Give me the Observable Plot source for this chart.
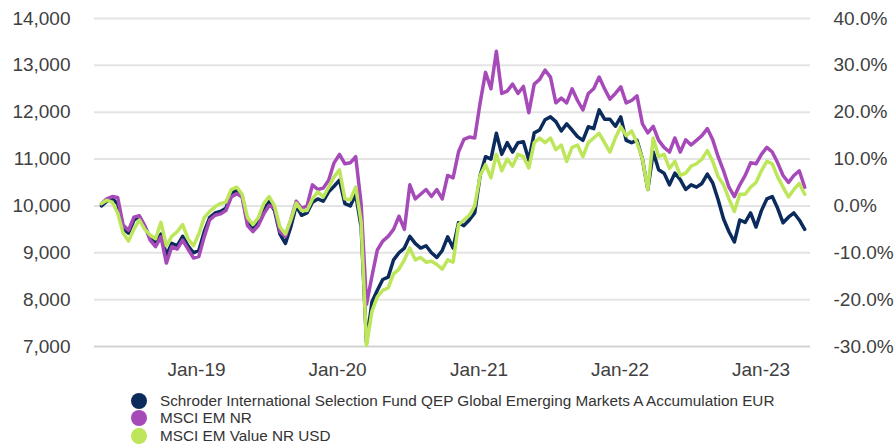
<!DOCTYPE html>
<html><head><meta charset="utf-8">
<script src="https://cdn.jsdelivr.net/npm/d3@7"></script>
<script src="https://cdn.jsdelivr.net/npm/@observablehq/plot@0.6"></script>
<style>
body{margin:0;background:#fff;font-family:"Liberation Sans",Arial,sans-serif;}
#chart{position:absolute;left:0;top:0;}
#legend{position:absolute;left:131px;top:392px;font-size:15.3px;color:#333;}
.item{display:flex;align-items:center;height:17.5px;white-space:nowrap;}
.dot{width:16px;height:16px;border-radius:50%;margin-right:13px;flex:none;}
</style></head><body><div id="chart"></div><div id="legend"></div>
<script>
// Biweekly observations starting 30 Apr 2018 (growth of 10,000)
const startDate = "2018-04-30";
const stepDays = 14;

const seriesNames = [
  "Schroder International Selection Fund QEP Global Emerging Markets A Accumulation EUR",
  "MSCI EM NR",
  "MSCI EM Value NR USD"
];
const seriesColors = ["#0b2b5c", "#a64ab9", "#bde65a"];

const fund = [
  10000, 10100, 10150, 10050, 9520, 9420, 9700, 9780, 9560, 9320,
  9200, 9400, 8950, 9200, 9150, 9350, 9150, 9000, 9050, 9450,
  9750, 9850, 9880, 9950, 10280, 10330, 10220, 9640, 9520, 9650,
  9920, 10100, 9900, 9400, 9200, 9550, 10000, 9800, 9850, 10080,
  10150, 10100, 10300, 10420, 10550, 10050, 10000, 10250, 9550, 7080,
  7950, 8200, 8430, 8480, 8850, 9000, 9100, 9350, 9200, 9100,
  9150, 9000, 8900, 9050, 9340, 9100, 9640, 9580, 9700, 9850,
  10650, 11050, 11000, 11550, 11100, 11350, 11150, 11350, 11370, 10980,
  11560, 11620, 11840, 11900, 11800, 11600, 11750, 11620, 11480, 11400,
  11690, 11650, 12050, 11850, 11850, 11700, 11900, 11400, 11350, 11400,
  11000, 10350, 11150, 10770, 10700, 10450, 10700, 10560, 10350, 10450,
  10400, 10480, 10680, 10490, 10130, 9720, 9450, 9230, 9700, 9650,
  9850, 9550, 9900, 10150, 10200, 9950, 9640, 9760, 9850, 9700, 9500
];
const msciEm = [
  10050, 10150, 10200, 10180, 9590, 9480, 9760, 9790, 9580, 9270,
  9130, 9340, 8780, 9130, 9080, 9270, 9080, 8890, 8920, 9340,
  9700, 9800, 9830, 9900, 10190, 10260, 10190, 9580, 9450, 9580,
  9830, 10010, 9950, 9450, 9350, 9700, 10100, 9950, 10000, 10450,
  10350, 10380, 10550, 10920, 11100, 10900, 10920, 11050, 10050, 7900,
  8500, 9060, 9250, 9350, 9500, 9780, 9500, 10450, 10150, 10250,
  10350, 10200, 10350, 10150, 10650, 10600, 11150, 11420, 11470, 11450,
  12200, 12850, 12500, 13300, 12400, 12450, 12600, 12400, 12550, 11990,
  12600, 12700, 12900, 12750, 12200, 12300, 12200, 12500, 12250, 12050,
  12400, 12500, 12750, 12500, 12280, 12400, 12540, 12200, 12250, 12350,
  11750, 11560, 11700, 11400, 11250, 11150, 11450, 11150, 11410, 11300,
  11400, 11500, 11650, 11410, 11050, 10750, 10400, 10200, 10450, 10650,
  10920, 10900, 11100, 11250, 11150, 10920, 10650, 10500, 10650, 10750, 10400
];
const msciEmValue = [
  10050, 10120, 10080, 9850, 9420, 9250, 9500, 9700, 9500, 9380,
  9300, 9650, 9150, 9350, 9450, 9600, 9300, 9150, 9400, 9750,
  9880, 9980, 10050, 10080, 10350, 10400, 10250, 9750, 9600, 9750,
  10050, 10200, 10000, 9550, 9400, 9700, 10060, 9900, 9900, 10150,
  10300, 10190, 10400, 10620, 10770, 10150, 10130, 10400, 9650, 7020,
  7750, 8060, 8200, 8250, 8550, 8650, 8850, 9100, 8850, 8900,
  8800, 8820, 8750, 8650, 8850, 8800, 9600, 9700, 9800, 10000,
  10650, 10880, 10600, 11100, 10750, 11000, 10850, 11100, 11050, 10810,
  11350, 11450, 11350, 11450, 11200, 11300, 10950, 11250, 11300, 11050,
  11350, 11450, 11550, 11350, 11150, 11450, 11690, 11500, 11600, 11350,
  11000, 10350, 11450, 11050, 11100, 10800, 10950, 10650, 10700, 10850,
  10900, 11000, 11180, 10950, 10620, 10450, 10150, 9880, 10250, 10250,
  10400, 10500, 10750, 10950, 10900, 10620, 10400, 10190, 10350, 10480, 10250
];

const yTicks = [7000, 8000, 9000, 10000, 11000, 12000, 13000, 14000];
const pctTickLabels = ["-30.0%", "-20.0%", "-10.0%", "0.0%", "10.0%", "20.0%", "30.0%", "40.0%"];
const xTickDates = ["2019-01-01", "2020-01-01", "2021-01-01", "2022-01-01", "2023-01-01"];
const xTickLabels = ["Jan-19", "Jan-20", "Jan-21", "Jan-22", "Jan-23"];

const start = new Date(startDate + "T00:00:00Z");
const dates = fund.map((_, i) => d3.utcDay.offset(start, i * stepDays));
const rows = [];
[fund, msciEm, msciEmValue].forEach((arr, s) =>
  arr.forEach((v, i) => rows.push({date: dates[i], value: v, series: seriesNames[s]})));

const xTicks = xTickDates.map(d => new Date(d + "T00:00:00Z"));

const chart = Plot.plot({
  width: 896,
  height: 385,
  marginLeft: 94,
  marginRight: 86,
  marginTop: 18,
  marginBottom: 39,
  style: {fontFamily: "'Liberation Sans', Arial, sans-serif", fontSize: "19px", color: "#404040", background: "white"},
  x: {type: "utc", domain: [new Date("2018-04-12T00:00:00Z"), new Date("2023-05-09T00:00:00Z")]},
  y: {domain: [7000, 14000]},
  color: {domain: seriesNames, range: seriesColors},
  marks: [
    Plot.ruleY(yTicks.slice(1), {stroke: "#e4e4e4", strokeWidth: 2}),
    Plot.ruleY([7000], {stroke: "#d2d2d2", strokeWidth: 2}),
    Plot.axisX({ticks: xTicks, tickFormat: d => xTickLabels[xTicks.findIndex(t => +t === +d)], tickSize: 0, tickPadding: 16, label: null}),
    Plot.axisY({ticks: yTicks, tickFormat: d3.format(","), tickSize: 0, tickPadding: 24, label: null}),
    Plot.axisY({anchor: "right", ticks: yTicks, tickFormat: d => pctTickLabels[yTicks.indexOf(d)], tickSize: 0, tickPadding: 23, label: null}),
    Plot.lineY(rows, {x: "date", y: "value", stroke: "series", z: "series", strokeWidth: 3.5, strokeLinejoin: "round"})
  ]
});
document.getElementById("chart").appendChild(chart);

const legend = document.getElementById("legend");
seriesNames.forEach((name, i) => {
  const item = document.createElement("div");
  item.className = "item";
  const dot = document.createElement("span");
  dot.className = "dot";
  dot.style.background = seriesColors[i];
  const label = document.createElement("span");
  label.textContent = name;
  item.appendChild(dot);
  item.appendChild(label);
  legend.appendChild(item);
});
</script>
</body></html>
